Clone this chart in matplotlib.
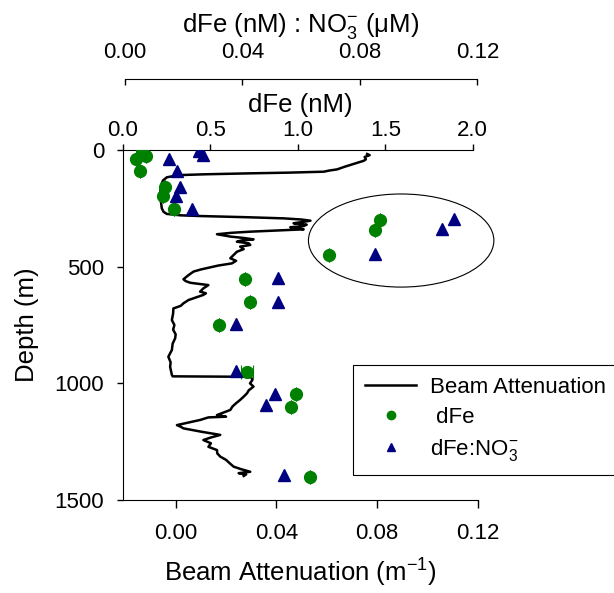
import numpy as np
import matplotlib
matplotlib.use("Agg")
import matplotlib.pyplot as plt
from matplotlib.patches import Ellipse

plt.rcParams['font.family'] = ['Liberation Sans', 'DejaVu Sans']
plt.rcParams['mathtext.fontset'] = 'custom'
plt.rcParams['mathtext.rm'] = 'Liberation Sans'
plt.rcParams['mathtext.it'] = 'Liberation Sans'
plt.rcParams['font.size'] = 16

# beam attenuation profile (m-1) vs depth (m)
beam_depth = [17, 22, 30, 40, 46, 55, 64, 72, 83, 88, 93, 97, 100, 104, 107, 112, 117,
              130, 143, 170, 200, 225, 250, 265, 274, 280, 283, 288, 293, 298, 303,
              309, 314, 320, 326, 331, 336, 340, 345, 350, 355, 361, 366, 371, 377,
              383, 388, 393, 400, 407, 414, 425, 436, 450, 464, 475, 486, 495, 503,
              512, 521, 537, 554, 562, 569, 575, 579, 593, 607, 614, 621, 632, 643,
              657, 668, 679, 700, 729, 750, 770, 790, 807, 830, 857, 886, 910, 929,
              950, 964, 970, 972, 975, 985, 1000, 1014, 1030, 1043, 1057, 1071, 1085,
              1100, 1114, 1125, 1136, 1143, 1146, 1157, 1168, 1179, 1186, 1193, 1207,
              1221, 1232, 1243, 1257, 1272, 1286, 1300, 1314, 1328, 1343, 1357, 1368,
              1379, 1385, 1390, 1397]
beam_att = [0.076, 0.077, 0.075, 0.0755, 0.0747, 0.072, 0.0694, 0.067, 0.0641, 0.061,
            0.0588, 0.045, 0.0296, 0.012, 0.0031, -0.001, -0.0035,
            -0.005, -0.0055, -0.006, -0.0062, -0.0058, -0.0055, -0.0048, -0.0035,
            0.002, 0.0097, 0.028, 0.0429, 0.050, 0.0535,
            0.050, 0.0468, 0.052, 0.0508, 0.0455, 0.049, 0.0508, 0.040, 0.0296,
            0.022, 0.0164, 0.019, 0.0217, 0.027,
            0.0309, 0.026, 0.0243, 0.029, 0.0296, 0.0256, 0.027, 0.0243, 0.023,
            0.0217, 0.024, 0.0223, 0.017, 0.0137,
            0.010, 0.0071, 0.005, 0.0031, 0.004, 0.0058, 0.010, 0.013, 0.011,
            0.0097, 0.012, 0.011, 0.008, 0.0051,
            0.0031, 0.002, -0.0009, -0.001, -0.0015, -0.0005, -0.001, 0.0, -0.0002,
            -0.0012, -0.0015, -0.0029, -0.002, -0.0022,
            -0.0018, -0.0015, -0.0012, 0.029, 0.030, 0.0305, 0.0295, 0.0309, 0.029,
            0.0283, 0.027, 0.0256, 0.024,
            0.0225, 0.0217, 0.019, 0.0164, 0.020, 0.013, 0.0097, 0.005, 0.0005,
            0.002, 0.0031, 0.010,
            0.0177, 0.014, 0.011, 0.014, 0.013, 0.0164, 0.0165, 0.0177, 0.020,
            0.0215, 0.023, 0.026,
            0.0296, 0.025, 0.028, 0.027]

# dissolved iron (nM)
dfe_depth = [0, 26, 40, 90, 157, 197, 251, 300, 343, 450, 553, 653, 751, 950, 1047, 1100, 1400]
dfe = [0.11, 0.134, 0.075, 0.10, 0.243, 0.228, 0.294, 1.47, 1.443, 1.176,
       0.70, 0.724, 0.55, 0.71, 0.991, 0.963, 1.067]
dfe_err = [0, 0, 0, 0, 0, 0, 0, 0, 0, 0, 0, 0, 0, 0.034, 0, 0, 0]

# dFe : nitrate ratio
ratio_depth = [3, 21, 40, 89, 157, 197, 251, 297, 340, 447, 550, 650, 747, 947, 1046, 1094, 1393]
ratio = [0.0253, 0.0267, 0.0151, 0.0179, 0.0188, 0.0174, 0.0228, 0.112, 0.108, 0.0851,
         0.0521, 0.0521, 0.0377, 0.0377, 0.051, 0.048, 0.0541]

label_size = 18.5

fig = plt.figure(figsize=(6.14, 5.93), dpi=100)
ax = fig.add_axes([123 / 614, 93 / 593, 355 / 614, 350 / 593])
ax2 = ax.twiny()
ax3 = ax.twiny()

line, = ax.plot(beam_att, beam_depth, color='black', lw=1.8, zorder=2)
ax.set_xlim(-0.0209, 0.12)
ax.set_ylim(1500, 0)
ax.set_xticks([0.0, 0.04, 0.08, 0.12])
ax.set_xticklabels(['0.00', '0.04', '0.08', '0.12'])
ax.set_yticks([0, 500, 1000, 1500])
ax.spines['top'].set_visible(False)
ax.spines['right'].set_visible(False)
ax.tick_params(axis='x', direction='out', length=6, width=1, pad=10.5)
ax.tick_params(axis='y', direction='out', length=4.5, width=1, pad=9)
ax.set_xlabel('Beam Attenuation (m$^{-1}$)', fontsize=label_size, labelpad=9)
ax.set_ylabel('Depth (m)', fontsize=label_size, labelpad=11)

# dFe axis (top, inner)
ax2.errorbar(dfe, dfe_depth, xerr=dfe_err, fmt='none', ecolor='green', elinewidth=0.8,
             capsize=5, capthick=0.8, zorder=3)
pts1, = ax2.plot(dfe, dfe_depth, 'o', color='green', ms=8.5, ls='none', zorder=4)
ax2.set_xlim(0, 2.03)
ax2.set_xticks([0, 0.5, 1.0, 1.5, 2.0])
ax2.set_xticklabels(['0.0', '0.5', '1.0', '1.5', '2.0'])
for s in ['bottom', 'left', 'right']:
    ax2.spines[s].set_visible(False)
ax2.spines['top'].set_bounds(0, 2.0)
ax2.tick_params(axis='x', direction='out', length=4.5, width=1, pad=2)
ax2.set_xlabel('dFe (nM)', fontsize=label_size, labelpad=6)

# dFe:NO3 axis (top, outer)
pts2, = ax3.plot(ratio, ratio_depth, '^', color='#000080', ms=9, ls='none', zorder=4)
ax3.set_xlim(-0.0006, 0.1202)
ax3.set_xticks([0.0, 0.04, 0.08, 0.12])
ax3.set_xticklabels(['0.00', '0.04', '0.08', '0.12'])
for s in ['bottom', 'left', 'right']:
    ax3.spines[s].set_visible(False)
ax3.spines['top'].set_position(('outward', 51))
ax3.spines['top'].set_bounds(0, 0.12)
ax3.tick_params(axis='x', direction='in', length=4, width=1, pad=12)
ax3.set_xlabel('dFe (nM) : NO$_3^{-}$ (\u03bcM)', fontsize=label_size, labelpad=7)

ell = Ellipse((0.0895, 388), 0.0736, 399, fill=False, edgecolor='black', lw=0.8,
              clip_on=False, zorder=5)
ax.add_patch(ell)

h_line = plt.Line2D([], [], color='black', lw=1.8)
h_fe = plt.Line2D([], [], marker='o', color='green', ms=6, ls='none')
h_ratio = plt.Line2D([], [], marker='^', color='#000080', ms=6, ls='none')
leg = fig.legend([h_line, h_fe, h_ratio], ['Beam Attenuation', ' dFe', 'dFe:NO$_3^{-}$'],
                 loc='upper left', bbox_to_anchor=(353 / 614, 1 - 365 / 593),
                 borderaxespad=0, fancybox=False, framealpha=1, edgecolor='black',
                 fontsize=16, handlelength=2.3, handletextpad=0.6, labelspacing=0.4,
                 borderpad=0.55)
leg.get_frame().set_linewidth(0.8)

fig.savefig('out.png', dpi=100)
